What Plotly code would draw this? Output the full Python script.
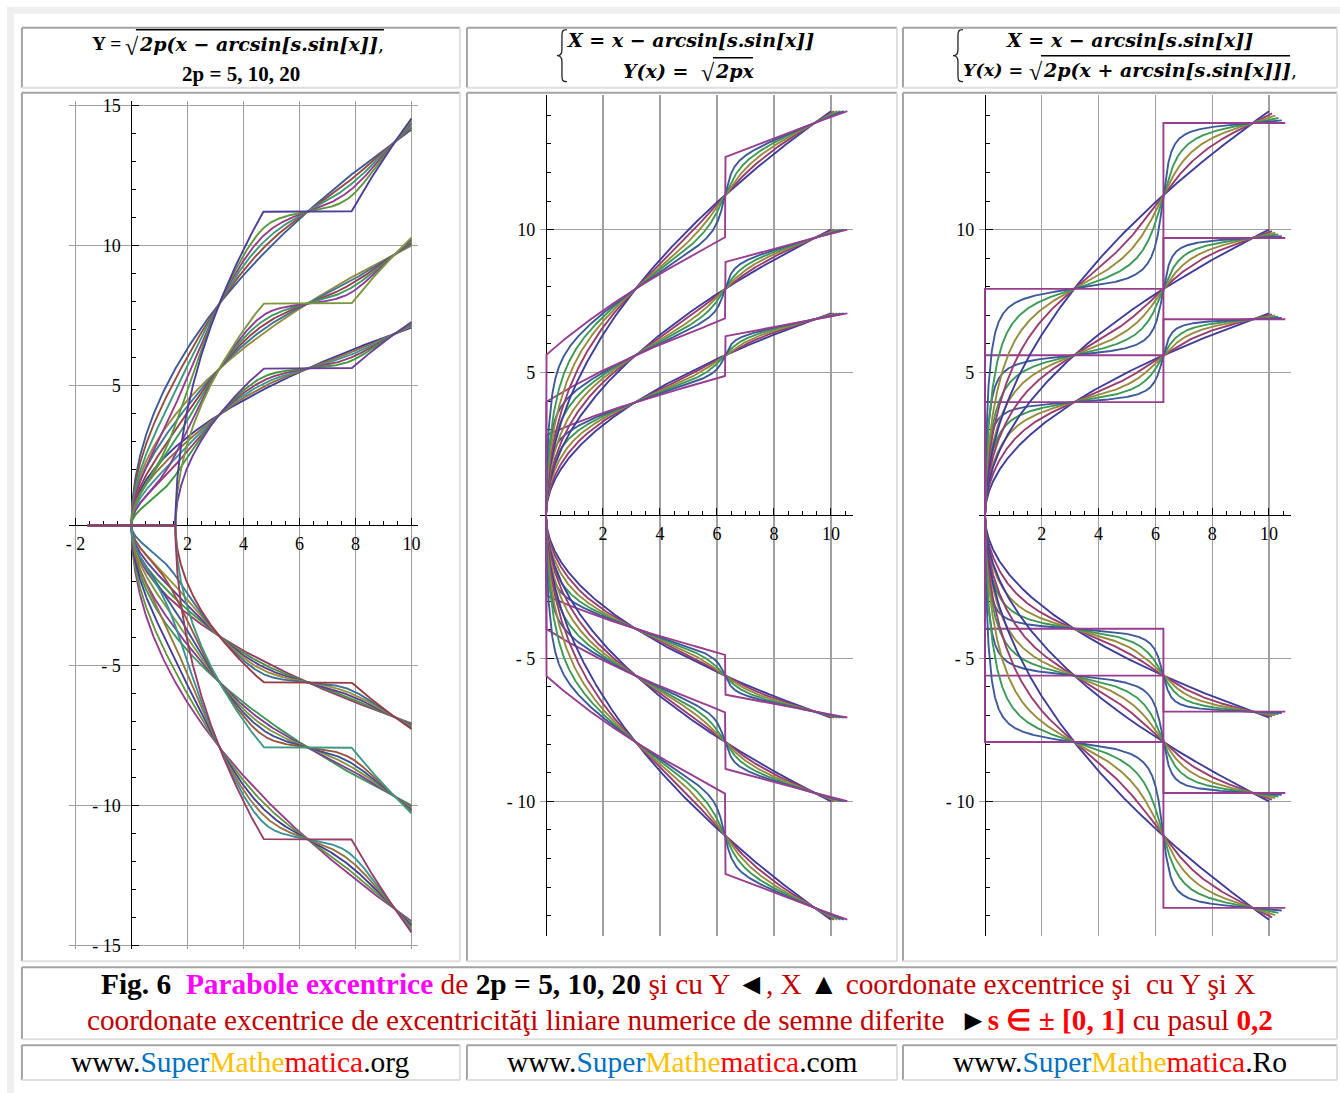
import colorsys
import numpy as np
import plotly.graph_objects as go

W, H = 1340, 1093

# ---- parameters of the families of curves ----
two_p_values = [5, 10, 20]
s_values = [0.0, 0.2, 0.4, 0.6, 0.8, 1.0]
x_from_left = -2.0      # range of x for the first family (explicit form)
x_from_param = 0.0      # range of the parameter x for the two parametric families
x_to = 10.0
n_samples = 1601

# ---- axes ----
p1_xticks = [-2, 2, 4, 6, 8, 10]
p1_xtext = ["- 2", "2", "4", "6", "8", "10"]
p1_yticks = [-15, -10, -5, 5, 10, 15]
p1_ytext = ["- 15", "- 10", "- 5", "5", "10", "15"]
p23_xticks = [2, 4, 6, 8, 10]
p23_xtext = ["2", "4", "6", "8", "10"]
p23_yticks = [-10, -5, 5, 10]
p23_ytext = ["- 10", "- 5", "5", "10"]

# page placement: layout positions below are given in page pixels and mapped
# onto the figure through this linear placement (scale, offset) per direction
SX, BX = 0.9962, 3.1
SY, BY = 0.9905, 5.27


def fx(px):
    return (px - BX) / SX / W


def fy(py):
    return 1 - (py - BY) / SY / H


# geometry of the three plot panels (page pixels): origin, pixels per unit, ranges
panels = {
    1: dict(x0=131.5, kx=28.0, xr=(-2.24, 10.24), y0=526.0, ky=28.0, yr=(-15.15, 15.15)),
    2: dict(x0=546.0, kx=28.5, xr=(-0.21, 10.79), y0=516.0, ky=28.6, yr=(-14.7, 14.7)),
    3: dict(x0=985.0, kx=28.4, xr=(-0.21, 10.79), y0=516.0, ky=28.6, yr=(-14.7, 14.7)),
}


def plot_colour(n):
    """Default plot-style colour sequence (golden-ratio hue steps)."""
    h = (0.67 + n * 0.2360679774997897) % 1.0
    r, g, b = colorsys.hsv_to_rgb(h, 0.6, 0.6)
    return f"rgb({round(r * 255)},{round(g * 255)},{round(b * 255)})"


def sample(a, b, n):
    xs = np.linspace(a, b, n)
    half_pi = np.pi / 2
    kinks = np.arange(np.ceil(a / half_pi), np.floor(b / half_pi) + 1) * half_pi
    return np.union1d(xs, kinks)


def safe_sqrt(v):
    v = np.where((v < 0) & (v > -1e-9), 0.0, v)
    out = np.full_like(v, np.nan)
    ok = v >= 0
    out[ok] = np.sqrt(v[ok])
    return out


def eccentric_shift(x, s):
    return np.arcsin(np.clip(s * np.sin(x), -1.0, 1.0))


fig = go.Figure()


def add_curve(x, y, colour, panel):
    suffix = "" if panel == 1 else str(panel)
    fig.add_trace(go.Scatter(
        x=x, y=y, mode="lines", line=dict(color=colour, width=1.9),
        xaxis="x" + suffix, yaxis="y" + suffix,
        hoverinfo="skip", showlegend=False, connectgaps=False))


# Panel 1: Y = ±sqrt(2p (x - arcsin(s sin x)))
x1 = sample(x_from_left, x_to, n_samples)
k = 0
for s in s_values:
    for tp in two_p_values:
        for sign in (1, -1):
            y = sign * safe_sqrt(tp * (x1 - eccentric_shift(x1, s)))
            add_curve(x1, y, plot_colour(k), 1)
            k += 1

# Panel 2: X = x - arcsin(s sin x), Y = ±sqrt(2p x)
# Panel 3: X = x - arcsin(s sin x), Y = ±sqrt(2p (x + arcsin(s sin x)))
xp = sample(x_from_param, x_to, n_samples)
for tp in two_p_values:
    for sign in (1, -1):
        for i, s in enumerate(s_values):
            sh = eccentric_shift(xp, s)
            X = xp - sh
            add_curve(X, sign * safe_sqrt(tp * xp), plot_colour(i), 2)
for tp in two_p_values:
    for sign in (1, -1):
        for i, s in enumerate(s_values):
            sh = eccentric_shift(xp, s)
            X = xp - sh
            add_curve(X, sign * safe_sqrt(tp * (xp + sh)), plot_colour(i), 3)

tick_font = dict(family="Liberation Serif", size=18, color="black")
grid_col = "#a0a0a0"


def axes_for(p, xticks, xtext, yticks, ytext):
    g = panels[p]
    left = g["x0"] + g["xr"][0] * g["kx"]
    right = g["x0"] + g["xr"][1] * g["kx"]
    top = g["y0"] - g["yr"][1] * g["ky"]
    bottom = g["y0"] - g["yr"][0] * g["ky"]
    xd = [fx(left), fx(right)]
    yd = [fy(bottom), fy(top)]
    xa = dict(domain=xd, range=list(g["xr"]), anchor="free", position=fy(g["y0"]),
              showline=True, linecolor="black", linewidth=1, layer="below traces",
              ticks="inside", ticklen=7, tickwidth=1, tickcolor="black",
              tickmode="array", tickvals=xticks, ticktext=xtext, tickfont=tick_font,
              ticklabelstandoff=2,
              showgrid=True, gridcolor=grid_col, gridwidth=1.3, zeroline=False,
              minor=dict(ticks="inside", ticklen=4, tickwidth=1, tickcolor="black",
                         tickmode="linear", tick0=0, dtick=0.5, showgrid=False),
              fixedrange=True)
    ya = dict(domain=yd, range=list(g["yr"]), anchor="free", position=fx(g["x0"]),
              showline=True, linecolor="black", linewidth=1, layer="below traces",
              ticks="inside", ticklen=7, tickwidth=1, tickcolor="black",
              tickmode="array", tickvals=yticks, ticktext=ytext, tickfont=tick_font,
              ticklabelstandoff=7,
              showgrid=True, gridcolor=grid_col, gridwidth=1.3, zeroline=False,
              minor=dict(ticks="inside", ticklen=4, tickwidth=1, tickcolor="black",
                         tickmode="linear", tick0=0, dtick=1, showgrid=False),
              fixedrange=True)
    return xa, ya


xa1, ya1 = axes_for(1, p1_xticks, p1_xtext, p1_yticks, p1_ytext)
xa2, ya2 = axes_for(2, p23_xticks, p23_xtext, p23_yticks, p23_ytext)
xa3, ya3 = axes_for(3, p23_xticks, p23_xtext, p23_yticks, p23_ytext)

# ---- page frame and table cells ----
shapes = []


def px_rect(x0, y0, x1, y1, fill):
    shapes.append(dict(type="rect", xref="paper", yref="paper", layer="below",
                       x0=fx(x0), x1=fx(x1), y0=fy(y1), y1=fy(y0),
                       fillcolor=fill, line=dict(width=0, color=fill)))


def px_line(x0, y0, x1, y1, col, lw, layer="below"):
    shapes.append(dict(type="line", xref="paper", yref="paper", layer=layer,
                       x0=fx(x0), x1=fx(x1), y0=fy(y0), y1=fy(y1),
                       line=dict(color=col, width=lw)))


def px_brace(x, y0, y1, depth=5, col="#222", lw=1.3):
    """Left curly brace drawn as a path; x is the spine, the tip points left by depth."""
    ym = (y0 + y1) / 2
    pts = lambda a, b: f"{fx(a):.5f},{fy(b):.5f}"
    d = (f"M {pts(x + depth, y0)} C {pts(x, y0)} {pts(x, y0 + 2)} {pts(x, y0 + 7)} "
         f"L {pts(x, ym - 6)} C {pts(x, ym - 2)} {pts(x - 1, ym)} {pts(x - depth, ym)} "
         f"C {pts(x - 1, ym)} {pts(x, ym + 2)} {pts(x, ym + 6)} "
         f"L {pts(x, y1 - 7)} C {pts(x, y1 - 2)} {pts(x, y1)} {pts(x + depth, y1)}")
    shapes.append(dict(type="path", xref="paper", yref="paper", layer="above",
                       path=d, line=dict(color=col, width=lw)))


px_rect(7, 7, 1345, 1100, "#efefef")
px_rect(14, 14, 1345, 1100, "white")


def cell(x0, y0, x1, y1):
    dark, light = "#a3a3a3", "#dedede"
    px_line(x0, y0, x1, y0, dark, 2)
    px_line(x0, y0, x0, y1, dark, 2)
    px_line(x0, y1, x1, y1, light, 2)
    px_line(x1, y0, x1, y1, light, 2)


columns = [(22, 460), (467, 897), (903, 1337)]
for cx0, cx1 in columns:
    cell(cx0, 28, cx1, 88)
    cell(cx0, 93, cx1, 962)
    cell(cx0, 1046, cx1, 1081)
cell(22, 968, 1337, 1040)

# overlines of the radicals in the headings
px_line(136, 30, 384, 30, "black", 1.4, "above")
px_line(713, 58, 753, 58, "black", 1.4, "above")
px_line(1041, 56, 1290, 56, "black", 1.4, "above")
# braces of the parametric systems
px_brace(562, 30, 82)
px_brace(958, 30, 82)

annotations = []


def text(t, x, y, size, family="Liberation Serif", xanchor="center", color="black"):
    annotations.append(dict(text=t, x=fx(x), y=fy(y), xref="paper", yref="paper",
                            showarrow=False, xanchor=xanchor, yanchor="middle",
                            borderpad=0,
                            font=dict(family=family, size=size, color=color)))


MATH = "DejaVu Serif"
# heading 1
text("<b>Y =</b>", 122, 44, 19.5, xanchor="right")
text("√", 124, 47, 24, xanchor="left")
text("<b><i>2p(x − arcsin[s.sin[x]]</i></b>,", 138, 44, 19, MATH, xanchor="left")
text("<b>2p = 5, 10, 20</b>", 241, 74, 21)
# heading 2
text("<b><i>X = x − arcsin[s.sin[x]]</i></b>", 566, 40, 19, MATH, xanchor="left")
text("<b><i>Y(x) =</i></b>", 622, 71, 19, MATH, xanchor="left")
text("√", 700, 73, 24, xanchor="left")
text("<b><i>2px</i></b>", 714, 71, 19, MATH, xanchor="left")
# heading 3
text("<b><i>X = x − arcsin[s.sin[x]]</i></b>", 1005, 40, 19, MATH, xanchor="left")
text("<b><i>Y(x) =</i></b>", 962, 70, 17.5, MATH, xanchor="left")
text("√", 1028, 72, 24, xanchor="left")
text("<b><i>2p(x + arcsin[s.sin[x]]]</i></b>,", 1042, 70, 19, MATH, xanchor="left")

# caption
DR = "#c00000"
cap1 = ("<b>Fig. 6</b>  <b><span style='color:#ff00ff'>Parabole excentrice</span></b> "
        f"<span style='color:{DR}'>de</span> <b>2p = 5, 10, 20</b> "
        f"<span style='color:{DR}'>şi cu Y</span> ◄<span style='color:{DR}'>, X</span> ▲ "
        f"<span style='color:{DR}'>coordonate excentrice şi  cu Y şi X</span>")
cap2 = (f"<span style='color:{DR}'>coordonate excentrice de excentricităţi liniare numerice "
        "de semne diferite</span>  ►<b><span style='color:#ff0000'>s ∈ ± [0, 1]</span></b>"
        f"<span style='color:{DR}'> cu pasul </span><b><span style='color:#ff0000'>0,2</span></b>")
text(cap1, 679, 985, 29.4)
text(cap2, 680, 1021, 29.2)

# footer
sites = [".org", ".com", ".Ro"]
for (cx0, cx1), tld in zip(columns, sites):
    t = ("www.<span style='color:#0070c0'>Super</span>"
         "<span style='color:#ffc000'>Mathe</span>"
         "<span style='color:#ff0000'>matica</span>" + tld)
    text(t, (cx0 + cx1) / 2, 1063, 29.5)

fig.update_layout(
    width=W, height=H, autosize=False,
    margin=dict(l=0, r=0, t=0, b=0, pad=0),
    paper_bgcolor="white", plot_bgcolor="rgba(0,0,0,0)",
    font=dict(family="Liberation Serif", color="black"),
    xaxis=xa1, yaxis=ya1, xaxis2=xa2, yaxis2=ya2, xaxis3=xa3, yaxis3=ya3,
    shapes=shapes, annotations=annotations, showlegend=False,
)

fig.write_html(
    "out.html",
    config={"displayModeBar": False, "staticPlot": True},
    post_script="document.body.style.margin='0';"
                "document.documentElement.style.overflow='hidden';",
)
